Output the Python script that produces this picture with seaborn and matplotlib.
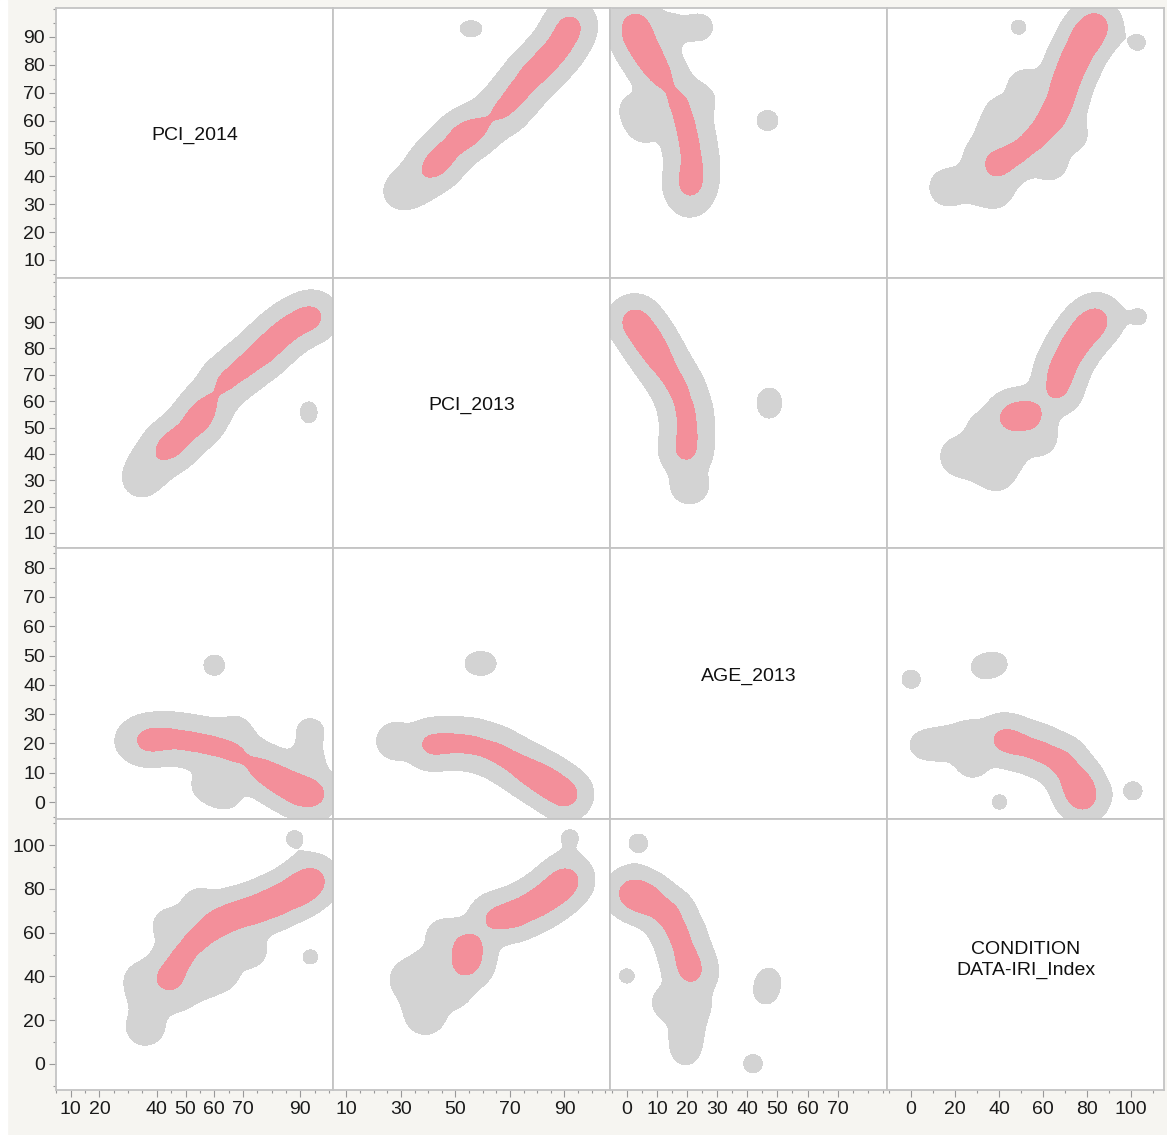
import numpy as np
import matplotlib.pyplot as plt
from matplotlib.patches import Rectangle
from matplotlib.ticker import FixedLocator, MultipleLocator
import seaborn as sns

# Scatterplot matrix of pavement data with shaded density contours

sns.set_style("white")
plt.rcParams['font.family'] = ['Liberation Sans', 'DejaVu Sans']

variables = ["PCI_2014", "PCI_2013", "AGE_2013", "CONDITION\nDATA-IRI_Index"]

# Points traced along the density ridges of each pair (x value, y value, weight)
# PCI_2014 (x) vs PCI_2013 (y)
pci14_pci13_x = [43.6, 48.6, 54.1, 57.2, 59.7, 64.0, 70.1, 76.3, 81.2, 86.1, 91.1, 94.8, 38.1, 34.5, 92.9, 93.0]
pci14_pci13_y = [42.1, 46.6, 52.5, 57.7, 61.7, 67.5, 72.8, 78.0, 83.2, 87.8, 91.0, 92.3, 36.2, 30.5, 58.5, 53.0]
pci14_pci13_w = [1.3, 1.12, 1.4, 0.86, 0.4, 1.11, 1.24, 1.35, 1.26, 1.16, 0.82, 0.97, 0.5, 0.3, 0.075, 0.075]

# PCI_2014 (x) vs AGE_2013 (y)
pci14_age_x = [37.5, 44.3, 51.6, 59.0, 66.4, 72.0, 76.9, 83.0, 89.2, 94.8, 32.0, 58.0, 64.0, 93.5, 92.5, 67.7, 60.0]
pci14_age_y = [21.1, 21.8, 20.8, 19.4, 17.1, 14.0, 10.8, 7.3, 3.8, 2.6, 20.8, 6.0, 3.0, 24.0, 14.0, 24.9, 46.7]
pci14_age_w = [1.35, 1.08, 1.13, 1.13, 1.08, 0.5, 1.2, 1.55, 1.55, 1.35, 0.3, 0.25, 0.22, 0.18, 0.25, 0.15, 0.14]

# PCI_2014 (x) vs IRI index (y)
pci14_iri_x = [44.3, 48.6, 54.1, 60.3, 66.4, 73.8, 81.2, 88.6, 94.1, 36.0, 38.0, 35.0, 47.0, 55.0, 62.0, 72.0, 45.0, 55.0, 88.0, 93.5]
pci14_iri_y = [40.2, 48.9, 56.8, 63.1, 67.8, 70.2, 74.1, 78.8, 83.6, 17.0, 30.0, 38.0, 33.0, 38.0, 42.0, 52.0, 63.0, 72.0, 103.0, 48.9]
pci14_iri_w = [1.4, 1.22, 1.3, 1.4, 1.5, 1.7, 1.9, 2.0, 1.75, 0.35, 0.45, 0.3, 0.35, 0.3, 0.35, 0.3, 0.3, 0.3, 0.12, 0.115]

# PCI_2013 (x) vs AGE_2013 (y)
pci13_age_x = [41.0, 48.8, 56.6, 64.4, 70.9, 77.3, 83.8, 90.3, 28.1, 56.5, 62.0]
pci13_age_y = [19.6, 20.2, 19.6, 17.3, 13.8, 10.2, 6.7, 2.6, 20.8, 47.3, 47.3]
pci13_age_w = [1.3, 1.08, 1.08, 1.08, 1.05, 1.4, 1.7, 1.7, 0.35, 0.1, 0.1]

# PCI_2013 (x) vs IRI index (y)
pci13_iri_x = [64.4, 72.2, 79.9, 86.4, 91.0, 55.0, 54.0, 38.4, 41.0, 33.2, 48.8, 39.0, 46.0, 92.0]
pci13_iri_y = [66.2, 68.6, 73.3, 78.8, 84.3, 54.0, 45.8, 30.8, 43.4, 38.7, 33.9, 22.0, 58.0, 103.4]
pci13_iri_w = [1.3, 1.6, 1.65, 1.6, 1.45, 1.55, 1.55, 0.45, 0.45, 0.35, 0.35, 0.35, 0.3, 0.12]

# AGE_2013 (x) vs IRI index (y)
age_iri_x = [1.8, 7.3, 13.8, 17.3, 19.6, 21.4, 21.4, 20.5, 19.6, 19.5, 14.0, 3.8, 0.0, 47.2, 46.0, 41.9]
age_iri_y = [78.0, 74.9, 68.6, 59.1, 49.7, 41.8, 27.6, 19.0, 11.9, 4.5, 28.0, 100.9, 40.2, 39.5, 31.6, 0.1]
age_iri_w = [1.85, 1.6, 1.4, 1.22, 1.1, 1.3, 0.35, 0.15, 0.17, 0.13, 0.25, 0.13, 0.115, 0.12, 0.12, 0.13]

# tick labels shown on the outer axes
x_ticks = [[10, 20, 40, 50, 60, 70, 90], [10, 30, 50, 70, 90], [0, 10, 20, 30, 40, 50, 60, 70], [0, 20, 40, 60, 80, 100]]
y_ticks = [[10, 20, 30, 40, 50, 60, 70, 80, 90], [10, 20, 30, 40, 50, 60, 70, 80, 90],
           [0, 10, 20, 30, 40, 50, 60, 70, 80], [0, 20, 40, 60, 80, 100]]

pairs = {
    (0, 1): (pci14_pci13_x, pci14_pci13_y, pci14_pci13_w),
    (0, 2): (pci14_age_x, pci14_age_y, pci14_age_w),
    (0, 3): (pci14_iri_x, pci14_iri_y, pci14_iri_w),
    (1, 2): (pci13_age_x, pci13_age_y, pci13_age_w),
    (1, 3): (pci13_iri_x, pci13_iri_y, pci13_iri_w),
    (2, 3): (age_iri_x, age_iri_y, age_iri_w),
}

# axis ranges and smoothing per variable
x_limits = [(4.85, 101.4), (5.1, 106.7), (-5.6, 86.4), (-10.9, 115.0)]
y_limits = [(3.5, 100.4), (4.3, 106.7), (-5.8, 86.7), (-11.9, 111.9)]
minor_step = [5, 5, 5, 10]
bandwidth = [4.07, 4.34, 3.9, 5.22]

GRAY = "#d3d3d3"
PINK = "#f38f9a"
GRAY_LEVEL = 0.095
PINK_LEVEL = 1.1

W, H = 1167, 1135
col_edges = [56, 333, 610, 887, 1164]
row_edges = [8, 278, 548, 819, 1090]

fig = plt.figure(figsize=(W / 100, H / 100), dpi=100, facecolor="#f6f5f1")
# thin white margin on the far left
fig.patches.append(Rectangle((0, 0), 7 / W, 1, transform=fig.transFigure, color="white", zorder=0))

for r in range(4):
    for c in range(4):
        left = col_edges[c] / W
        bottom = 1 - row_edges[r + 1] / H
        width = (col_edges[c + 1] - col_edges[c]) / W
        height = (row_edges[r + 1] - row_edges[r]) / H
        ax = fig.add_axes([left, bottom, width, height])
        ax.set_facecolor("white")
        ax.set_xlim(x_limits[c])
        ax.set_ylim(y_limits[r])

        if r == c:
            ypos = 0.48 if r == 3 else 0.527
            ax.text(0.5, ypos, variables[r], transform=ax.transAxes, ha="center", va="center",
                    fontsize=14, color="#111111", linespacing=1.3)
        else:
            if (c, r) in pairs:
                xs, ys, ws = pairs[(c, r)]
            else:
                ys, xs, ws = pairs[(r, c)]
            gx = np.linspace(x_limits[c][0], x_limits[c][1], 320)
            gy = np.linspace(y_limits[r][0], y_limits[r][1], 320)
            X, Y = np.meshgrid(gx, gy)
            D = np.zeros_like(X)
            for x, y, w in zip(xs, ys, ws):
                D += w * np.exp(-0.5 * (((X - x) / bandwidth[c]) ** 2 + ((Y - y) / bandwidth[r]) ** 2))
            top = max(D.max(), PINK_LEVEL) + 1
            ax.contourf(X, Y, D, levels=[GRAY_LEVEL, PINK_LEVEL, top], colors=[GRAY, PINK])

        ax.xaxis.set_major_locator(FixedLocator(x_ticks[c]))
        ax.xaxis.set_minor_locator(MultipleLocator(minor_step[c]))
        ax.yaxis.set_major_locator(FixedLocator(y_ticks[r]))
        ax.yaxis.set_minor_locator(MultipleLocator(minor_step[r]))
        ax.tick_params(which="both", direction="out", color="#999999", width=0.8,
                       labelsize=14, labelcolor="#1a1a1a",
                       bottom=(r == 3), labelbottom=(r == 3), left=(c == 0), labelleft=(c == 0),
                       top=False, right=False)
        ax.tick_params(which="major", length=5, pad=3)
        ax.tick_params(which="minor", length=2.5)
        for sp in ax.spines.values():
            sp.set_color("#c4c4c4")
            sp.set_linewidth(1.3)

fig.savefig("out.png", dpi=100, facecolor=fig.get_facecolor())
